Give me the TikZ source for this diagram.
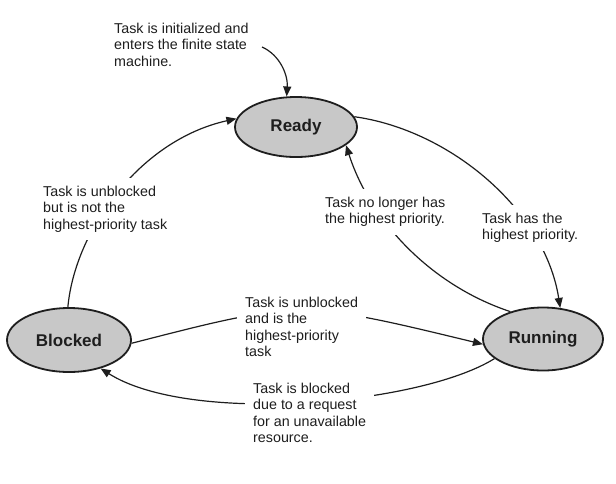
\documentclass[tikz,border=0pt]{standalone}
\usepackage{fontspec}
\setmainfont{Liberation Sans}
\usetikzlibrary{shapes.geometric,arrows.meta}
\definecolor{statefill}{RGB}{200,200,200}
\definecolor{ink}{RGB}{30,30,30}
\tikzset{
  statenode/.style={ellipse, draw=ink, line width=1.8pt, fill=statefill, inner sep=0pt,
    font=\fontsize{17}{20}\selectfont\bfseries, text=ink},
  note/.style={anchor=north west, align=left, fill=white, inner sep=8pt,
    font=\fontsize{14.3}{16.5}\selectfont, text=ink},
  conn/.style={draw=ink, line width=1.2pt, -{Triangle[length=10pt,width=8pt]}},
}
\begin{document}
\begin{tikzpicture}[x=1pt,y=-1pt]
\useasboundingbox (0,0) rectangle (616,483);
% states
\node[statenode, minimum width=122pt, minimum height=60pt] (ready) at (296,127) {Ready};
\node[statenode, minimum width=124pt, minimum height=64pt] (blocked) at (69,340) {Blocked};
\node[statenode, minimum width=120pt, minimum height=63pt] (running) at (543,339) {Running};
\coordinate (init) at (262,47);
% connectors
\draw[conn] (init) .. controls (280,55) and (288,75) .. (ready.107);
\draw[conn] (blocked.92) .. controls (75,230) and (140,140) .. (ready.172);
\draw[conn] (ready.10) .. controls (450,130) and (545,210) .. (running.61);
\draw[conn] (running.140) .. controls (430,285) and (370,220) .. (ready.-20);
\draw[conn] (blocked.-3) .. controls (300,300) .. (running.185);
\draw[conn] (running.202) .. controls (420,405) and (190,425) .. (blocked.-42);
% labels
\node[note] (t1) at (106,14.8) {Task is initialized and\\enters the finite state\\machine.};
\node[note] (t2) at (35,177.8) {Task is unblocked\\but is not the\\highest-priority task};
\node[note] (t3) at (317,188.8) {Task no longer has\\the highest priority.};
\node[note] (t4) at (474,204.8) {Task has the\\highest priority.};
\node[note] (t5) at (237,288.8) {Task is unblocked\\and is the\\highest-priority\\task};
\node[note] (t6) at (245,374.8) {Task is blocked\\due to a request\\for an unavailable\\resource.};
\end{tikzpicture}
\end{document}
